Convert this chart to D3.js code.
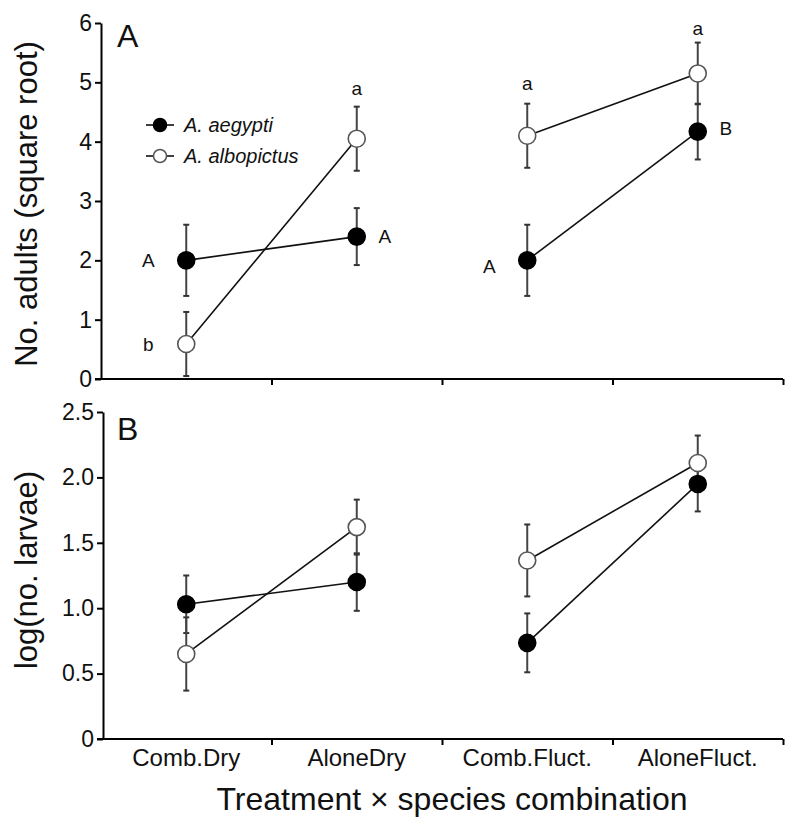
<!DOCTYPE html>
<html>
<head>
<meta charset="utf-8">
<script src="https://cdn.jsdelivr.net/npm/d3@7"></script>
<style>
  html, body { margin: 0; padding: 0; background: #fff; }
  svg { display: block; font-family: "Liberation Sans", Arial, Helvetica, sans-serif; }
</style>
</head>
<body>
<script>
// ---------- data ----------
const categories = ["Comb.Dry", "AloneDry", "Comb.Fluct.", "AloneFluct."];
const seriesNames = ["A. aegypti", "A. albopictus"];

// Panel A: No. adults (square root)
const adultsAegypti    = [2.0, 2.4, 2.0, 4.17];
const adultsAegyptiSE  = [0.6, 0.48, 0.6, 0.47];
const adultsAlbopictus   = [0.59, 4.05, 4.1, 5.15];
const adultsAlbopictusSE = [0.54, 0.54, 0.54, 0.52];

// Panel B: log(no. larvae)
const larvaeAegypti    = [1.03, 1.2, 0.735, 1.95];
const larvaeAegyptiSE  = [0.22, 0.22, 0.225, 0.21];
const larvaeAlbopictus   = [0.65, 1.62, 1.365, 2.11];
const larvaeAlbopictusSE = [0.28, 0.21, 0.275, 0.21];

const ticksA = [0, 1, 2, 3, 4, 5, 6];
const ticksB = [0, 0.5, 1.0, 1.5, 2.0, 2.5];
const tickLabelsB = ["0", "0.5", "1.0", "1.5", "2.0", "2.5"];

// significance letters (panel A): category, value (data units), text, anchor
const lettersA = [
  { cat: "Comb.Dry",    value: 2.0,  text: "A", anchor: "left" },
  { cat: "Comb.Dry",    value: 0.59, text: "b", anchor: "left" },
  { cat: "AloneDry",    value: 4.91, text: "a", anchor: "above" },
  { cat: "AloneDry",    value: 2.4,  text: "A", anchor: "right" },
  { cat: "Comb.Fluct.", value: 4.99, text: "a", anchor: "above" },
  { cat: "Comb.Fluct.", value: 1.9,  text: "A", anchor: "left" },
  { cat: "AloneFluct.", value: 5.92, text: "a", anchor: "above" },
  { cat: "AloneFluct.", value: 4.23, text: "B", anchor: "right" }
];

// ---------- layout ----------
const W = 798, H = 824;
const svg = d3.select("body").append("svg").attr("width", W).attr("height", H);

const x = d3.scaleBand().domain(categories).range([101, 783]);
const xEdge = d3.scaleLinear().domain([0, categories.length]).range([101, 783]);
const cx = c => x(c) + x.bandwidth() / 2;

const yA = d3.scaleLinear().domain([0, 6]).range([379, 23]);
const yB = d3.scaleLinear().domain([0, 2.5]).range([739, 412]);

function panel(y, yTicks, yFmt, axisX, aeg, aegSE, alb, albSE, label, labelY, ytitle, ytitleY, showXLabels) {
  const g = svg.append("g");
  const y0 = y.range()[0];

  // y axis
  const ya = g.append("g").attr("transform", `translate(${axisX},0)`)
    .call(d3.axisLeft(y).tickValues(yTicks).tickFormat(yFmt).tickSize(6).tickSizeOuter(0).tickPadding(3));
  ya.select(".domain").attr("stroke-width", 2);
  ya.selectAll(".tick line").attr("stroke-width", 2);
  ya.selectAll("text").attr("font-size", 23).attr("fill", "#111");

  // x axis (edge ticks)
  const xa = g.append("g").attr("transform", `translate(0,${y0})`)
    .call(d3.axisBottom(xEdge).tickValues(d3.range(1, categories.length + 1)).tickFormat("").tickSize(6).tickSizeOuter(0));
  xa.select(".domain").attr("stroke-width", 2).attr("d", `M${axisX - 6},0H${xEdge.range()[1]}`);
  xa.selectAll(".tick line").attr("stroke-width", 2);

  if (showXLabels) {
    const xl = g.append("g").attr("transform", `translate(0,${y0})`)
      .call(d3.axisBottom(x).tickSize(0).tickPadding(10));
    xl.select(".domain").remove();
    xl.selectAll("text").attr("font-size", 24).attr("fill", "#111");
  }

  // panel letter
  g.append("text").attr("x", 117).attr("y", labelY).attr("font-size", 32).attr("fill", "#111").text(label);

  // y title
  g.append("text")
    .attr("transform", `translate(${37},${ytitleY}) rotate(-90)`)
    .attr("text-anchor", "middle").attr("font-size", 31).attr("fill", "#111").text(ytitle);

  const series = [
    { vals: aeg, se: aegSE, fill: "#000", stroke: "#000" },
    { vals: alb, se: albSE, fill: "#fff", stroke: "#555" }
  ];

  // error bars
  series.forEach(s => {
    categories.forEach((c, i) => {
      const xx = cx(c), hi = y(s.vals[i] + s.se[i]), lo = y(s.vals[i] - s.se[i]);
      g.append("line").attr("x1", xx).attr("x2", xx).attr("y1", hi).attr("y2", lo)
        .attr("stroke", "#444").attr("stroke-width", 2);
      [hi, lo].forEach(yy => g.append("line").attr("x1", xx - 3).attr("x2", xx + 3)
        .attr("y1", yy).attr("y2", yy).attr("stroke", "#333").attr("stroke-width", 2));
    });
  });

  // connecting lines (Comb -> Alone within each treatment)
  const line = d3.line().x(d => cx(d.c)).y(d => y(d.v));
  series.forEach(s => {
    [[0, 1], [2, 3]].forEach(([a, b]) => {
      g.append("path").attr("d", line([{ c: categories[a], v: s.vals[a] }, { c: categories[b], v: s.vals[b] }]))
        .attr("fill", "none").attr("stroke", "#111").attr("stroke-width", 1.6);
    });
  });

  // points
  series.forEach(s => {
    g.selectAll(null).data(categories).enter().append("circle")
      .attr("cx", c => cx(c)).attr("cy", (c, i) => y(s.vals[i])).attr("r", 8.5)
      .attr("fill", s.fill).attr("stroke", s.stroke).attr("stroke-width", 1.6);
  });
  return g;
}

panel(yA, ticksA, d3.format("d"), 101, adultsAegypti, adultsAegyptiSE, adultsAlbopictus, adultsAlbopictusSE,
      "A", 47, "No. adults (square root)", 204, false);
panel(yB, ticksB, (d, i) => tickLabelsB[i], 103, larvaeAegypti, larvaeAegyptiSE, larvaeAlbopictus, larvaeAlbopictusSE,
      "B", 440, "log(no. larvae)", 570, true);

// significance letters
svg.append("g").selectAll("text").data(lettersA).enter().append("text")
  .attr("x", d => cx(d.cat) + (d.anchor === "left" ? -38 : d.anchor === "right" ? 28 : 0))
  .attr("y", d => yA(d.value))
  .attr("dy", "0.36em")
  .attr("text-anchor", "middle").attr("font-size", 19).attr("fill", "#111")
  .text(d => d.text);

// legend
const legend = svg.append("g");
[{ name: seriesNames[0], fill: "#000", stroke: "#000" }, { name: seriesNames[1], fill: "#fff", stroke: "#555" }]
  .forEach((s, i) => {
    const ly = 125 + i * 31;
    legend.append("line").attr("x1", 146).attr("x2", 174).attr("y1", ly).attr("y2", ly)
      .attr("stroke", "#111").attr("stroke-width", 1.6);
    legend.append("circle").attr("cx", 160).attr("cy", ly).attr("r", 6.5)
      .attr("fill", s.fill).attr("stroke", s.stroke).attr("stroke-width", 1.5);
    legend.append("text").attr("x", 184).attr("y", ly).attr("dy", "0.36em")
      .attr("font-size", 20).attr("font-style", "italic").attr("fill", "#111").text(s.name);
  });

// x title
svg.append("text").attr("x", 452).attr("y", 810).attr("text-anchor", "middle")
  .attr("font-size", 32).attr("fill", "#111").text("Treatment \u00d7 species combination");
</script>
</body>
</html>
